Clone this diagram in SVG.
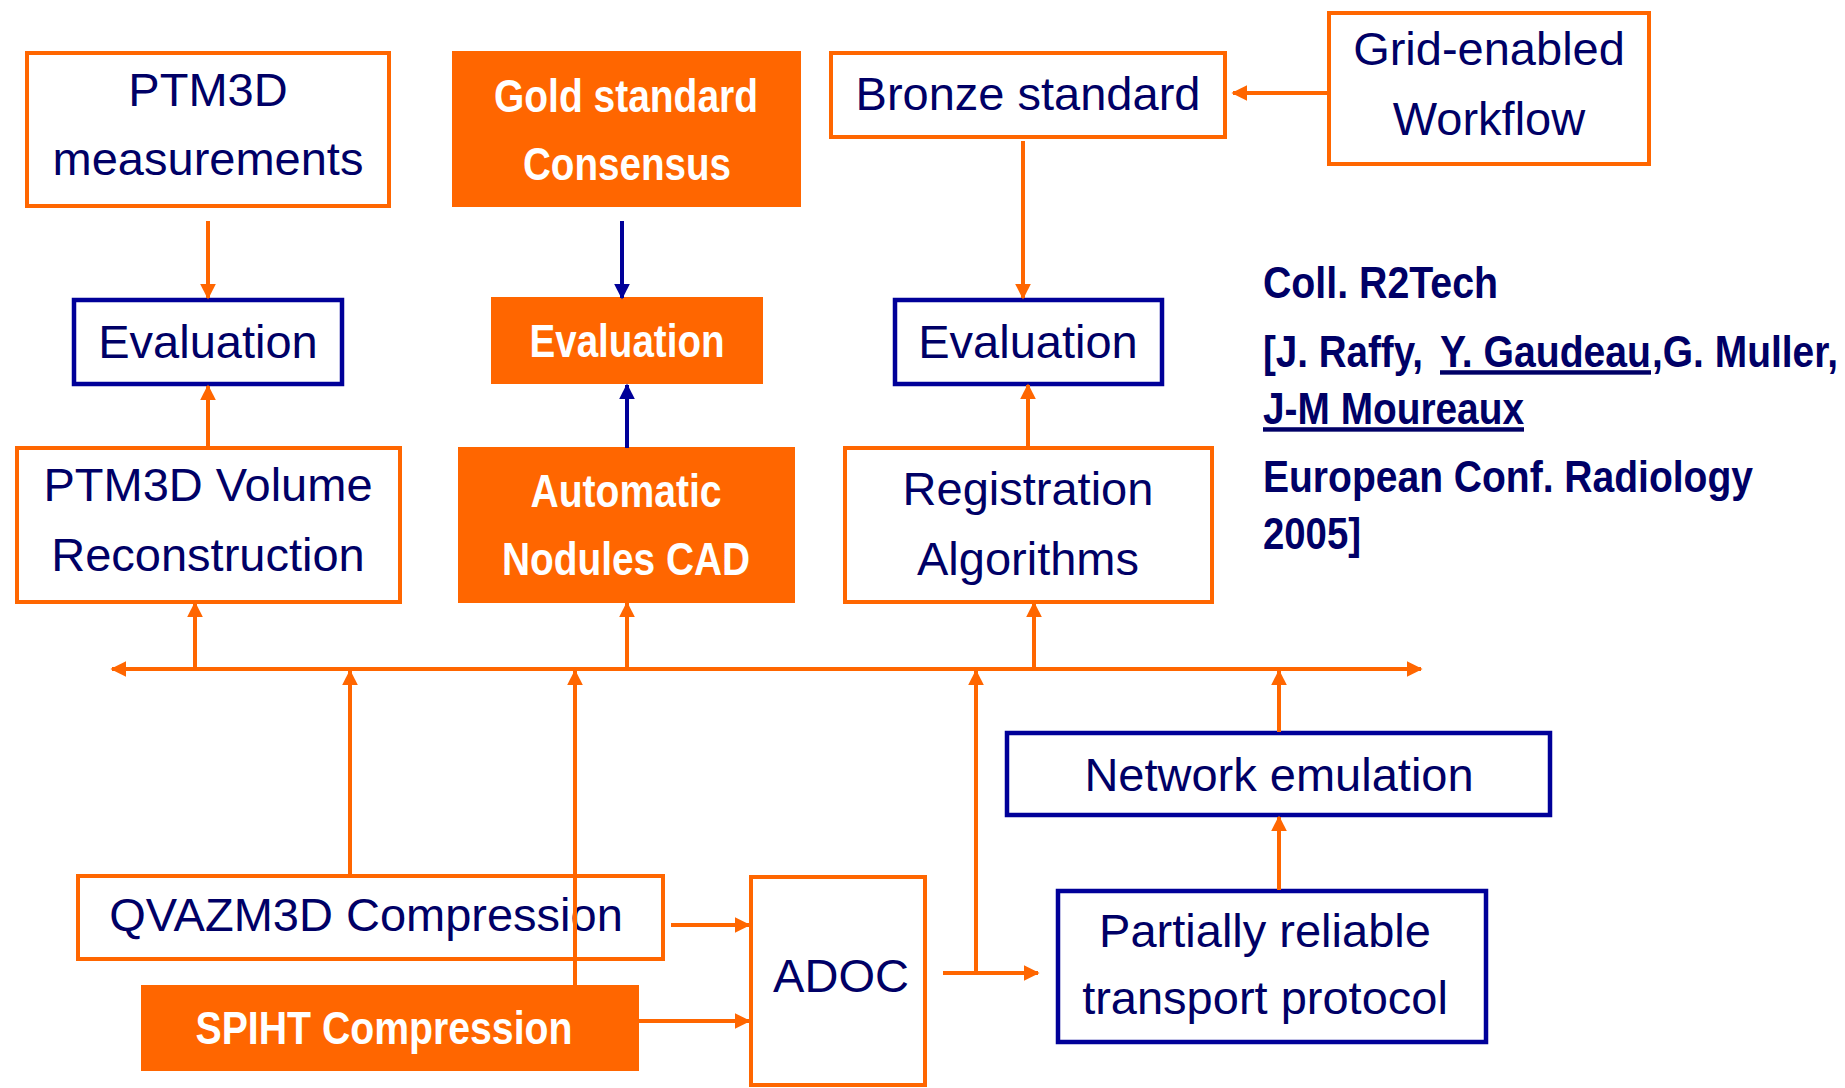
<svg xmlns="http://www.w3.org/2000/svg" width="1845" height="1088" viewBox="0 0 1845 1088">
<style>
.bo{fill:#fff;stroke:#FF6600;stroke-width:4}
.bb{fill:#fff;stroke:#000099;stroke-width:4.5}
.bf{fill:#FF6600;stroke:#FF6600;stroke-width:2}
.t{font-family:"Liberation Sans",Arial,sans-serif;font-size:47px;fill:#000066;text-anchor:middle}
.w{font-family:"Liberation Sans Narrow","Liberation Sans",Arial,sans-serif;font-weight:bold;font-size:46px;fill:#fff;text-anchor:middle}
.n{font-family:"Liberation Sans",Arial,sans-serif;font-weight:bold;font-size:38px;fill:#000066}
.u{text-decoration:underline}
.co{stroke:#FF6600;stroke-width:4;fill:none;marker-end:url(#ao)}
.cb{stroke:#000099;stroke-width:4;fill:none;marker-end:url(#ab)}
</style>
<defs>
<marker id="ao" viewBox="0 0 10 10" refX="9" refY="5" markerWidth="4" markerHeight="4" orient="auto" markerUnits="strokeWidth"><path d="M0,0L10,5L0,10z" fill="#FF6600"/></marker>
<marker id="ab" viewBox="0 0 10 10" refX="9" refY="5" markerWidth="4" markerHeight="4" orient="auto" markerUnits="strokeWidth"><path d="M0,0L10,5L0,10z" fill="#000099"/></marker>
</defs>
<rect width="1845" height="1088" fill="#fff"/>
<g id="ptm3d-measurements"><rect class="bo" x="27" y="53" width="362" height="153"/><text class="t" x="208" y="106">PTM3D</text><text class="t" x="208" y="175">measurements</text></g>
<g id="gold-standard"><rect class="bf" x="453" y="52" width="347" height="154"/><text class="w" x="626" y="112" textLength="264" lengthAdjust="spacingAndGlyphs">Gold standard</text><text class="w" x="627" y="180" textLength="208" lengthAdjust="spacingAndGlyphs">Consensus</text></g>
<g id="bronze-standard"><rect class="bo" x="831" y="53" width="394" height="84"/><text class="t" x="1028" y="110">Bronze standard</text></g>
<g id="grid-workflow"><rect class="bo" x="1329" y="13" width="320" height="151"/><text class="t" x="1489" y="65">Grid-enabled</text><text class="t" x="1489" y="135">Workflow</text></g>
<g id="evaluation-1"><rect class="bb" x="74" y="300" width="268" height="84"/><text class="t" x="208" y="358">Evaluation</text></g>
<g id="evaluation-2"><rect class="bf" x="492" y="298" width="270" height="85"/><text class="w" x="627" y="357" textLength="195" lengthAdjust="spacingAndGlyphs">Evaluation</text></g>
<g id="evaluation-3"><rect class="bb" x="895" y="300" width="267" height="84"/><text class="t" x="1028" y="358">Evaluation</text></g>
<g id="ptm3d-volume"><rect class="bo" x="17" y="448" width="383" height="154"/><text class="t" x="208" y="501">PTM3D Volume</text><text class="t" x="208" y="571">Reconstruction</text></g>
<g id="automatic-cad"><rect class="bf" x="459" y="448" width="335" height="154"/><text class="w" x="626" y="507" textLength="191" lengthAdjust="spacingAndGlyphs">Automatic</text><text class="w" x="626" y="575" textLength="248" lengthAdjust="spacingAndGlyphs">Nodules CAD</text></g>
<g id="registration"><rect class="bo" x="845" y="448" width="367" height="154"/><text class="t" x="1028" y="505">Registration</text><text class="t" x="1028" y="575">Algorithms</text></g>
<g id="network-emulation"><rect class="bb" x="1007" y="733" width="543" height="82"/><text class="t" x="1279" y="791">Network emulation</text></g>
<g id="qvazm3d"><rect class="bo" x="78" y="876" width="585" height="83"/><text class="t" x="366" y="931">QVAZM3D Compression</text></g>
<g id="spiht"><rect class="bf" x="142" y="986" width="496" height="84"/><text class="w" x="384" y="1044" textLength="377" lengthAdjust="spacingAndGlyphs">SPIHT Compression</text></g>
<g id="adoc"><rect class="bo" x="751" y="877" width="174" height="208"/><text class="t" x="841" y="992">ADOC</text></g>
<g id="partially-reliable"><rect class="bb" x="1058" y="891" width="428" height="151"/><text class="t" x="1265" y="947">Partially reliable</text><text class="t" x="1265" y="1014">transport protocol</text></g>
<g id="reference-note">
<text class="n" transform="translate(1263,298) scale(1,1.17)" x="0" y="0" textLength="235" lengthAdjust="spacingAndGlyphs">Coll. R2Tech</text>
<text class="n" transform="translate(1263,367) scale(1,1.17)" x="0" y="0" textLength="160" lengthAdjust="spacingAndGlyphs">[J. Raffy,</text>
<text class="n u" transform="translate(1440,367) scale(1,1.17)" x="0" y="0" textLength="211" lengthAdjust="spacingAndGlyphs">Y. Gaudeau</text>
<text class="n" transform="translate(1652,367) scale(1,1.17)" x="0" y="0" textLength="186" lengthAdjust="spacingAndGlyphs">,G. Muller,</text>
<text class="n u" transform="translate(1263,424) scale(1,1.17)" x="0" y="0" textLength="261" lengthAdjust="spacingAndGlyphs">J-M Moureaux</text>
<text class="n" transform="translate(1263,492) scale(1,1.17)" x="0" y="0" textLength="490" lengthAdjust="spacingAndGlyphs">European Conf. Radiology</text>
<text class="n" transform="translate(1263,549) scale(1,1.17)" x="0" y="0" textLength="98" lengthAdjust="spacingAndGlyphs">2005]</text>
</g>
<g id="connectors">
<line class="co" x1="208" y1="221" x2="208" y2="298"/>
<line class="cb" x1="622" y1="221" x2="622" y2="298"/>
<line class="co" x1="1023" y1="141" x2="1023" y2="298"/>
<line class="co" x1="1328" y1="93" x2="1233" y2="93"/>
<line class="co" x1="208" y1="448" x2="208" y2="386"/>
<line class="cb" x1="627" y1="448" x2="627" y2="385"/>
<line class="co" x1="1028" y1="448" x2="1028" y2="385"/>
<line class="co" x1="700" y1="669" x2="112" y2="669"/>
<line class="co" x1="700" y1="669" x2="1421" y2="669"/>
<line class="co" x1="195" y1="669" x2="195" y2="603"/>
<line class="co" x1="627" y1="669" x2="627" y2="603"/>
<line class="co" x1="1034" y1="669" x2="1034" y2="603"/>
<line class="co" x1="350" y1="875" x2="350" y2="671"/>
<line class="co" x1="575" y1="985" x2="575" y2="671"/>
<line class="co" x1="976" y1="973" x2="976" y2="671"/>
<line class="co" x1="1279" y1="732" x2="1279" y2="671"/>
<line class="co" x1="1279" y1="890" x2="1279" y2="817"/>
<line class="co" x1="671" y1="925" x2="749" y2="925"/>
<line class="co" x1="639" y1="1021" x2="749" y2="1021"/>
<line class="co" x1="943" y1="973" x2="1038" y2="973"/>
</g>
</svg>
